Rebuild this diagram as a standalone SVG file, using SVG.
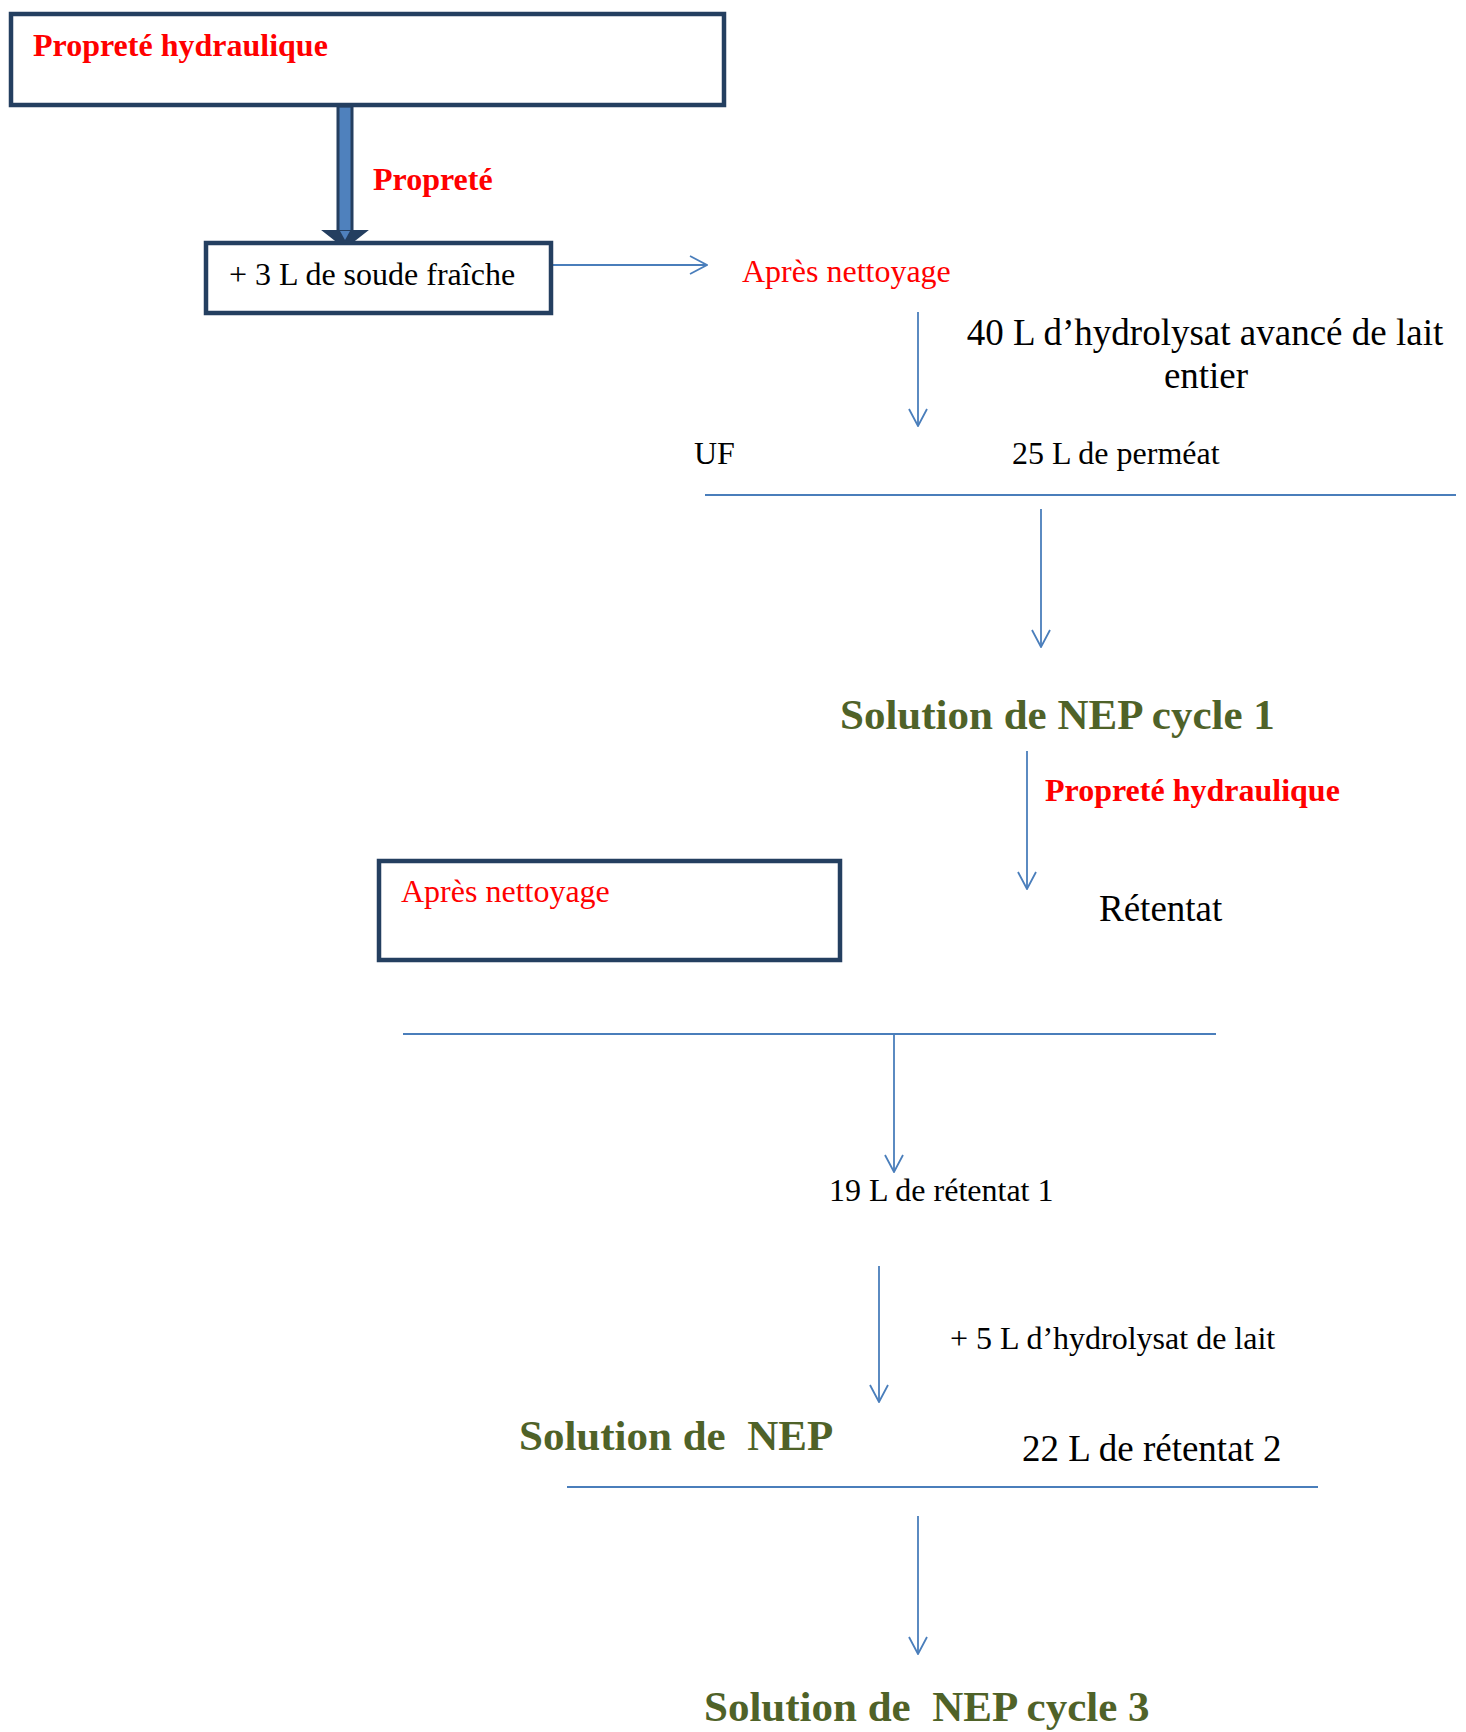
<svg xmlns="http://www.w3.org/2000/svg" width="1466" height="1732" viewBox="0 0 1466 1732">
<defs>
<style>
.box{fill:#fff;stroke:#243F60;stroke-width:4.5}
.ln{stroke:#4A7EBB;stroke-width:2;fill:none}
.arr{stroke:#4A7EBB;stroke-width:1.8;fill:none;marker-end:url(#open)}
.t{font-family:"Liberation Serif","Times New Roman",serif;fill:#000}
.red{fill:#FF0000}
.b{font-weight:bold}
.g{fill:#4F6228;font-weight:bold;font-size:43px}
.s32{font-size:32px}
.s37{font-size:37px}
</style>
<marker id="open" viewBox="0 0 20 20" refX="19" refY="10" markerWidth="20" markerHeight="20" markerUnits="userSpaceOnUse" orient="auto">
<path d="M2,1 L19,10 L2,19" fill="none" stroke="#4A7EBB" stroke-width="1.8"/>
</marker>
</defs>
<rect width="1466" height="1732" fill="#fff"/>

<g id="connectors">
<rect x="338" y="106" width="14" height="126" fill="#4F81BD" stroke="#243F60" stroke-width="3"/>
<polygon points="324,231 366,231 352,242 338,242" fill="#243F60" stroke="#243F60" stroke-width="2"/>
<polygon points="340,231 350,231 345,240" fill="#4F81BD"/>
<line class="arr" x1="551" y1="265" x2="707" y2="265"/>
<line class="arr" x1="918" y1="312" x2="918" y2="426"/>
<line class="ln" x1="705" y1="495" x2="1456" y2="495"/>
<line class="arr" x1="1041" y1="509" x2="1041" y2="647"/>
<line class="arr" x1="1027" y1="751" x2="1027" y2="889"/>
<line class="ln" x1="403" y1="1034" x2="1216" y2="1034"/>
<line class="arr" x1="894" y1="1034" x2="894" y2="1172"/>
<line class="arr" x1="879" y1="1266" x2="879" y2="1402"/>
<line class="ln" x1="567" y1="1487" x2="1318" y2="1487"/>
<line class="arr" x1="918" y1="1516" x2="918" y2="1654"/>
</g>

<g id="node-propreté-hydraulique-top">
<rect class="box" x="11" y="14" width="713" height="91"/>
<text class="t red b s32" x="33" y="56">Propreté hydraulique</text>
</g>

<g id="label-proprete">
<text class="t red b s32" x="373" y="190">Propreté</text>
</g>

<g id="node-soude">
<rect class="box" x="206" y="243" width="345" height="70"/>
<text class="t s32" x="229" y="285">+ 3 L de soude fraîche</text>
</g>

<g id="label-apres-nettoyage-1">
<text class="t red s32" x="742" y="282">Après nettoyage</text>
</g>

<g id="label-hydrolysat">
<text class="t s37" x="1205" y="345" text-anchor="middle">40 L d’hydrolysat avancé de lait</text>
<text class="t s37" x="1206" y="388" text-anchor="middle">entier</text>
</g>

<g id="label-uf">
<text class="t s32" x="694" y="464">UF</text>
</g>

<g id="label-permeat">
<text class="t s32" x="1012" y="464">25 L de perméat</text>
</g>

<g id="node-nep-cycle1">
<text class="t g" x="840" y="729">Solution de NEP cycle 1</text>
</g>

<g id="label-proprete-hydraulique-2">
<text class="t red b s32" x="1045" y="801">Propreté hydraulique</text>
</g>

<g id="node-apres-nettoyage-2">
<rect class="box" x="379" y="861" width="461" height="99"/>
<text class="t red s32" x="401" y="902">Après nettoyage</text>
</g>

<g id="label-retentat">
<text class="t s37" x="1099" y="921">Rétentat</text>
</g>

<g id="label-retentat1">
<text class="t s32" x="829" y="1201">19 L de rétentat 1</text>
</g>

<g id="label-5L">
<text class="t s32" x="950" y="1349">+ 5 L d’hydrolysat de lait</text>
</g>

<g id="node-nep">
<text class="t g" x="519" y="1450" xml:space="preserve">Solution de  NEP</text>
</g>

<g id="label-retentat2">
<text class="t s37" x="1022" y="1461">22 L de rétentat 2</text>
</g>

<g id="node-nep-cycle3">
<text class="t g" x="704" y="1721" xml:space="preserve">Solution de  NEP cycle 3</text>
</g>
</svg>
